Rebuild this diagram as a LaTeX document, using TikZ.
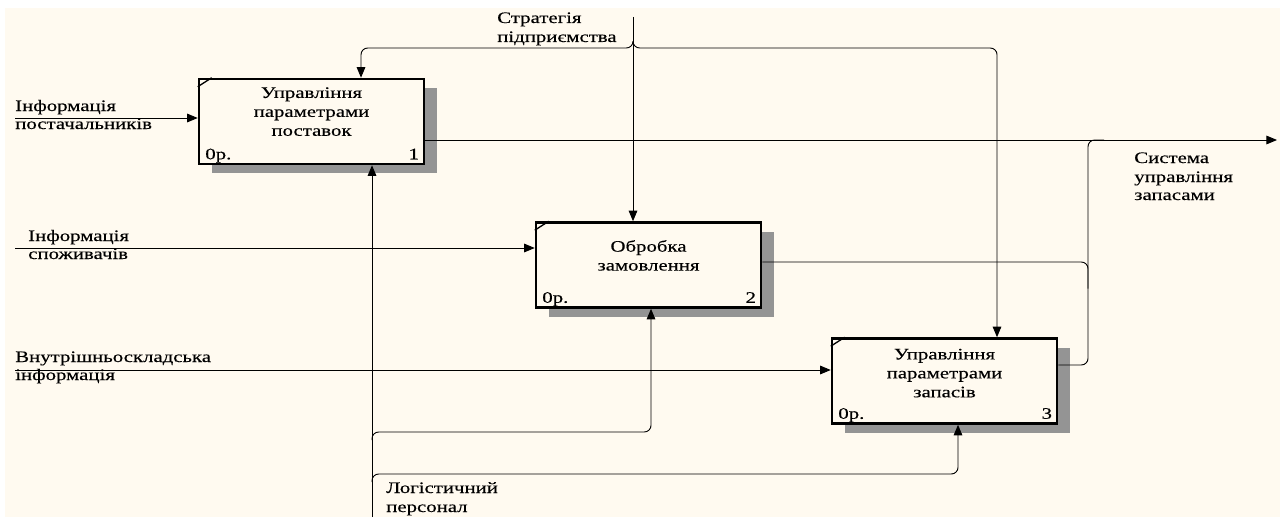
\documentclass[tikz,border=0pt]{standalone}
\usepackage{fontspec}
\setmainfont{Liberation Serif}[FakeStretch=1.3,FakeBold=0.3]
\usetikzlibrary{arrows.meta,shadows}
\definecolor{bg}{RGB}{255,250,240}
\begin{document}
\begin{tikzpicture}[x=0.75pt,y=-0.75pt,
  font=\fontsize{12}{14.2}\selectfont,
  box/.style={draw, line width=1.9pt, fill=bg, minimum width=168.75pt, minimum height=63.75pt, inner sep=0,
    general shadow={shadow xshift=9.75pt, shadow yshift=-6.75pt, fill=black!42}},
  flow/.style={line width=0.7pt, -{Triangle[length=8pt,width=6.5pt]}},
  link/.style={line width=0.7pt},
  lbl/.style={anchor=base west, inner sep=0},
  title/.style={anchor=north, align=center, inner sep=0},
  corner/.style={anchor=base west, inner sep=0},
  num/.style={anchor=base east, inner sep=0}]
\useasboundingbox (0,0) rectangle (1280,517);
\fill[white] (0,0) rectangle (1280,517);
\fill[bg] (5,8) rectangle (1280,517);

% boxes
\node[box] (b1) at (311.5,121.5) {};
\node[box] (b2) at (648.5,265) {};
\node[box] (b3) at (944.5,381) {};
\foreach \b in {b1,b2,b3}{
  \draw[line width=1pt] ([yshift=-6.75pt]\b.north west) -- ([xshift=10.5pt]\b.north west);
}
\node[title] (t1) at ([yshift=-7pt]b1.north) {Управління\\параметрами\\поставок};
\node[title] (t2) at ([yshift=-14pt]b2.north) {Обробка\\замовлення};
\node[title] (t3) at ([yshift=-8.5pt]b3.north) {Управління\\параметрами\\запасів};
\node[corner] (p1) at ([shift={(5.5pt,4.5pt)}]b1.south west) {0р.};
\node[num] (n1) at ([shift={(-4.5pt,4.5pt)}]b1.south east) {1};
\node[corner] (p2) at ([shift={(5.5pt,4.5pt)}]b2.south west) {0р.};
\node[num] (n2) at ([shift={(-4.5pt,4.5pt)}]b2.south east) {2};
\node[corner] (p3) at ([shift={(5.5pt,4.5pt)}]b3.south west) {0р.};
\node[num] (n3) at ([shift={(-4.5pt,4.5pt)}]b3.south east) {3};

% inputs
\coordinate (i1) at (15,118);
\coordinate (i2) at (15,248);
\coordinate (i3) at (15,370);
\draw[flow] (i1) -- (i1 -| b1.west);
\draw[flow] (i2) -- (i2 -| b2.west);
\draw[flow] (i3) -- (i3 -| b3.west);
\node[lbl] (l1a) at (15,111) {Інформація};
\node[lbl] (l1b) at (15,129) {постачальників};
\node[lbl] (l2a) at (28,241) {Інформація};
\node[lbl] (l2b) at (28,259) {споживачів};
\node[lbl] (l3a) at (15,362) {Внутрішньоскладська};
\node[lbl] (l3b) at (15,380) {інформація};

% control
\coordinate (c0) at (633,17);
\coordinate (cL) at (361,0);
\coordinate (cR) at (997,0);
\coordinate (cj) at (633,48);
\draw[flow] (c0) -- (c0 |- b2.north);
\draw[flow, rounded corners=5pt] ([yshift=4pt]cj) -- (cj) -| (cL |- b1.north);
\draw[flow, rounded corners=5pt] ([yshift=4pt]cj) -- (cj) -| (cR |- b3.north);
\node[lbl] (cla) at (497,23) {Стратегія};
\node[lbl] (clb) at (497,42) {підприємства};

% outputs
\coordinate (o) at (1277,140);
\coordinate (ox) at (1088,0);
\coordinate (o2) at (0,262);
\coordinate (o3) at (0,365);
\draw[flow] (b1.east |- o) -- (o);
\draw[link, rounded corners=5pt] (b3.east |- o3) -| (ox |- o) -- ([xshift=12pt]ox |- o);
\draw[link, rounded corners=5pt] (b2.east |- o2) -| ([yshift=-20pt]ox |- o2);
\node[lbl] (ola) at (1134,163) {Система};
\node[lbl] (olb) at (1134,182) {управління};
\node[lbl] (olc) at (1134,200) {запасами};

% mechanism
\coordinate (m0) at (372,517);
\coordinate (m2) at (651,432);
\coordinate (m3) at (958,474);
\draw[flow] (m0) -- (m0 |- b1.south);
\draw[flow, rounded corners=5pt] ([yshift=-6pt]m0 |- m2) -- (m0 |- m2) -| (m2 |- b2.south);
\draw[flow, rounded corners=5pt] ([yshift=-6pt]m0 |- m3) -- (m0 |- m3) -| (m3 |- b3.south);
\node[lbl] (mla) at (386,493) {Логістичний};
\node[lbl] (mlb) at (386,512) {персонал};
\end{tikzpicture}
\end{document}
